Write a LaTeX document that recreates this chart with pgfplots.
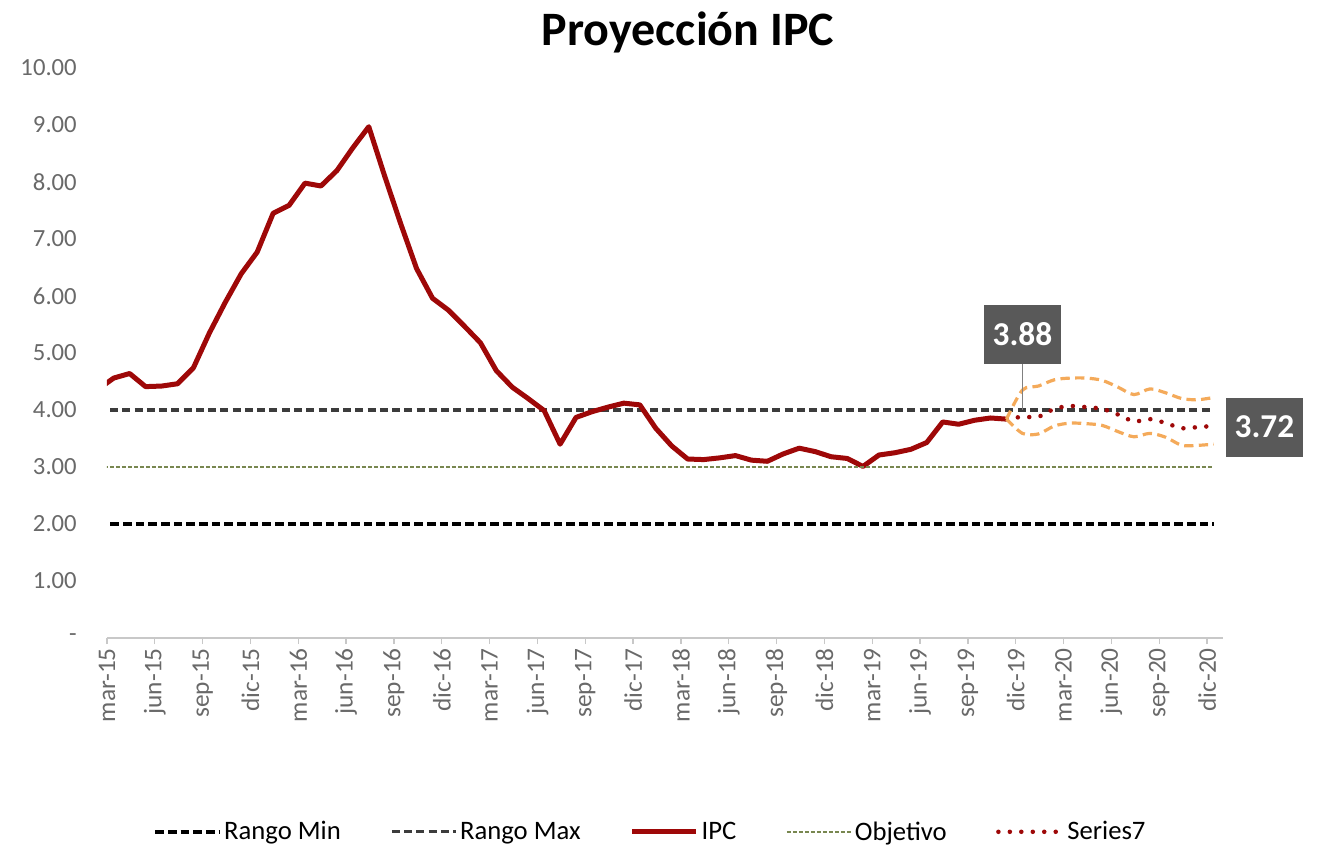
\documentclass[border=0pt]{standalone}
\usepackage{pgfplots}
\pgfplotsset{compat=1.18}
\usepackage{fontspec}
\setmainfont{Carlito}
\definecolor{ipcred}{RGB}{158,8,8}
\definecolor{bandorange}{RGB}{244,170,90}
\definecolor{rangomax}{RGB}{60,60,60}
\definecolor{objetivo}{RGB}{120,135,80}
\definecolor{labelbox}{RGB}{89,89,89}
\definecolor{tickgray}{RGB}{105,105,105}
\definecolor{axisgray}{RGB}{200,200,200}
\pgfplotsset{legend image code/.code={\draw[#1] (0pt,0pt) -- (48pt,0pt);}}

\pgfplotstableread{
x y
-0.58 4.36
0.42 4.56
1.42 4.64
2.42 4.41
3.42 4.42
4.42 4.46
5.42 4.74
6.42 5.35
7.42 5.89
8.42 6.39
9.42 6.77
10.42 7.45
11.42 7.59
12.42 7.98
13.42 7.93
14.42 8.20
15.42 8.60
16.42 8.97
17.42 8.10
18.42 7.27
19.42 6.48
20.42 5.96
21.42 5.75
22.42 5.47
23.42 5.18
24.42 4.69
25.42 4.40
26.42 4.20
27.42 3.99
28.42 3.40
29.42 3.87
30.42 3.97
31.42 4.05
32.42 4.12
33.42 4.09
34.42 3.68
35.42 3.37
36.42 3.14
37.42 3.13
38.42 3.16
39.42 3.20
40.42 3.12
41.42 3.10
42.42 3.23
43.42 3.33
44.42 3.27
45.42 3.18
46.42 3.15
47.42 3.01
48.42 3.21
49.42 3.25
50.42 3.31
51.42 3.43
52.42 3.79
53.42 3.75
54.42 3.82
55.42 3.86
56.42 3.84
}\ipc

\pgfplotstableread{
x s7 up lo
56.42 3.84 3.84 3.84
57.42 3.88 4.35 3.59
58.42 3.88 4.42 3.58
59.42 4.02 4.53 3.72
60.42 4.07 4.56 3.77
61.42 4.05 4.56 3.76
62.42 4.02 4.52 3.73
63.42 3.92 4.40 3.62
64.42 3.80 4.27 3.53
65.42 3.84 4.37 3.59
66.42 3.77 4.30 3.52
67.42 3.68 4.20 3.38
68.42 3.70 4.18 3.38
69.42 3.72 4.22 3.40
}\proj

\begin{document}
\begin{tikzpicture}
\path[use as bounding box] (-80.25pt,-156pt) rectangle (911.25pt,478.5pt);
\begin{axis}[
  at={(0pt,0pt)}, anchor=south west,
  scale only axis, width=837pt, height=427.5pt,
  xmin=0, xmax=70, ymin=0, ymax=10,
  clip mode=individual,
  axis x line*=bottom, axis y line*=left,
  x axis line style={draw=axisgray, line width=1pt, -},
  y axis line style={draw=none, -},
  xtick={0,3,...,69},
  xticklabels={mar-15,jun-15,sep-15,dic-15,mar-16,jun-16,sep-16,dic-16,mar-17,jun-17,sep-17,dic-17,mar-18,jun-18,sep-18,dic-18,mar-19,jun-19,sep-19,dic-19,mar-20,jun-20,sep-20,dic-20},
  ytick={0,1,...,10},
  yticklabels={-,1.00,2.00,3.00,4.00,5.00,6.00,7.00,8.00,9.00,10.00},
  tick align=outside, major tick length=4.5pt,
  xtick style={draw=axisgray, line width=1pt},
  ytick style={draw=none},
  xticklabel style={rotate=90, anchor=east, font=\fontsize{19}{19}\selectfont, text=tickgray, inner sep=0pt},
  yticklabel style={anchor=east, font=\fontsize{18.5}{18.5}\selectfont, text=tickgray, inner sep=0pt},
  xticklabel shift=3pt,
  yticklabel shift=18pt,
  legend columns=5,
  legend style={at={(0.4866,-0.340)}, anchor=center, draw=none, fill=none,
    font=\fontsize{20}{22}\selectfont, nodes={inner sep=1pt},
    /tikz/every odd column/.append style={column sep=1pt},
    /tikz/every even column/.append style={column sep=36pt}},
]
\addplot[black, line width=3.2pt, dash pattern=on 6.5pt off 3pt] coordinates {(-0.58,2) (69.42,2)};
\addlegendentry{Rango Min}
\addplot[rangomax, line width=2.4pt, dash pattern=on 6pt off 3.2pt] coordinates {(-0.58,4) (69.42,4)};
\addlegendentry{Rango Max}
\addplot[ipcred, line width=3.75pt, line join=round] table[x=x,y=y] {\ipc};
\addlegendentry{IPC}
\addplot[objetivo, line width=1.9pt, dash pattern=on 3pt off 1.5pt] coordinates {(-0.58,3) (69.42,3)};
\addlegendentry{Objetivo}
\addplot[ipcred, line width=3.4pt, line cap=round, dash pattern=on 0pt off 8.6pt, smooth] table[x=x,y=s7] {\proj};
\addlegendentry{Series7}
\addplot[bandorange, line width=2.4pt, dash pattern=on 7pt off 4pt, smooth, forget plot] table[x=x,y=up] {\proj};
\addplot[bandorange, line width=2.4pt, dash pattern=on 7pt off 4pt, smooth, forget plot] table[x=x,y=lo] {\proj};
\draw[gray, line width=0.8pt] (axis cs:57.42,4.0) -- (axis cs:57.42,4.82);
\node[fill=labelbox, text=white, font=\fontsize{25}{25}\selectfont\bfseries, minimum width=57.75pt, minimum height=44.25pt, inner sep=0pt] at (axis cs:57.42,5.33) {3.88};
\node[fill=labelbox, text=white, font=\fontsize{25}{25}\selectfont\bfseries, minimum width=57.75pt, minimum height=44.25pt, inner sep=0pt] at (axis cs:72.6,3.70) {3.72};
\end{axis}
\node[font=\fontsize{36}{36}\selectfont\bfseries, anchor=base] at (435.75pt,444pt) {Proyección IPC};
\end{tikzpicture}
\end{document}
